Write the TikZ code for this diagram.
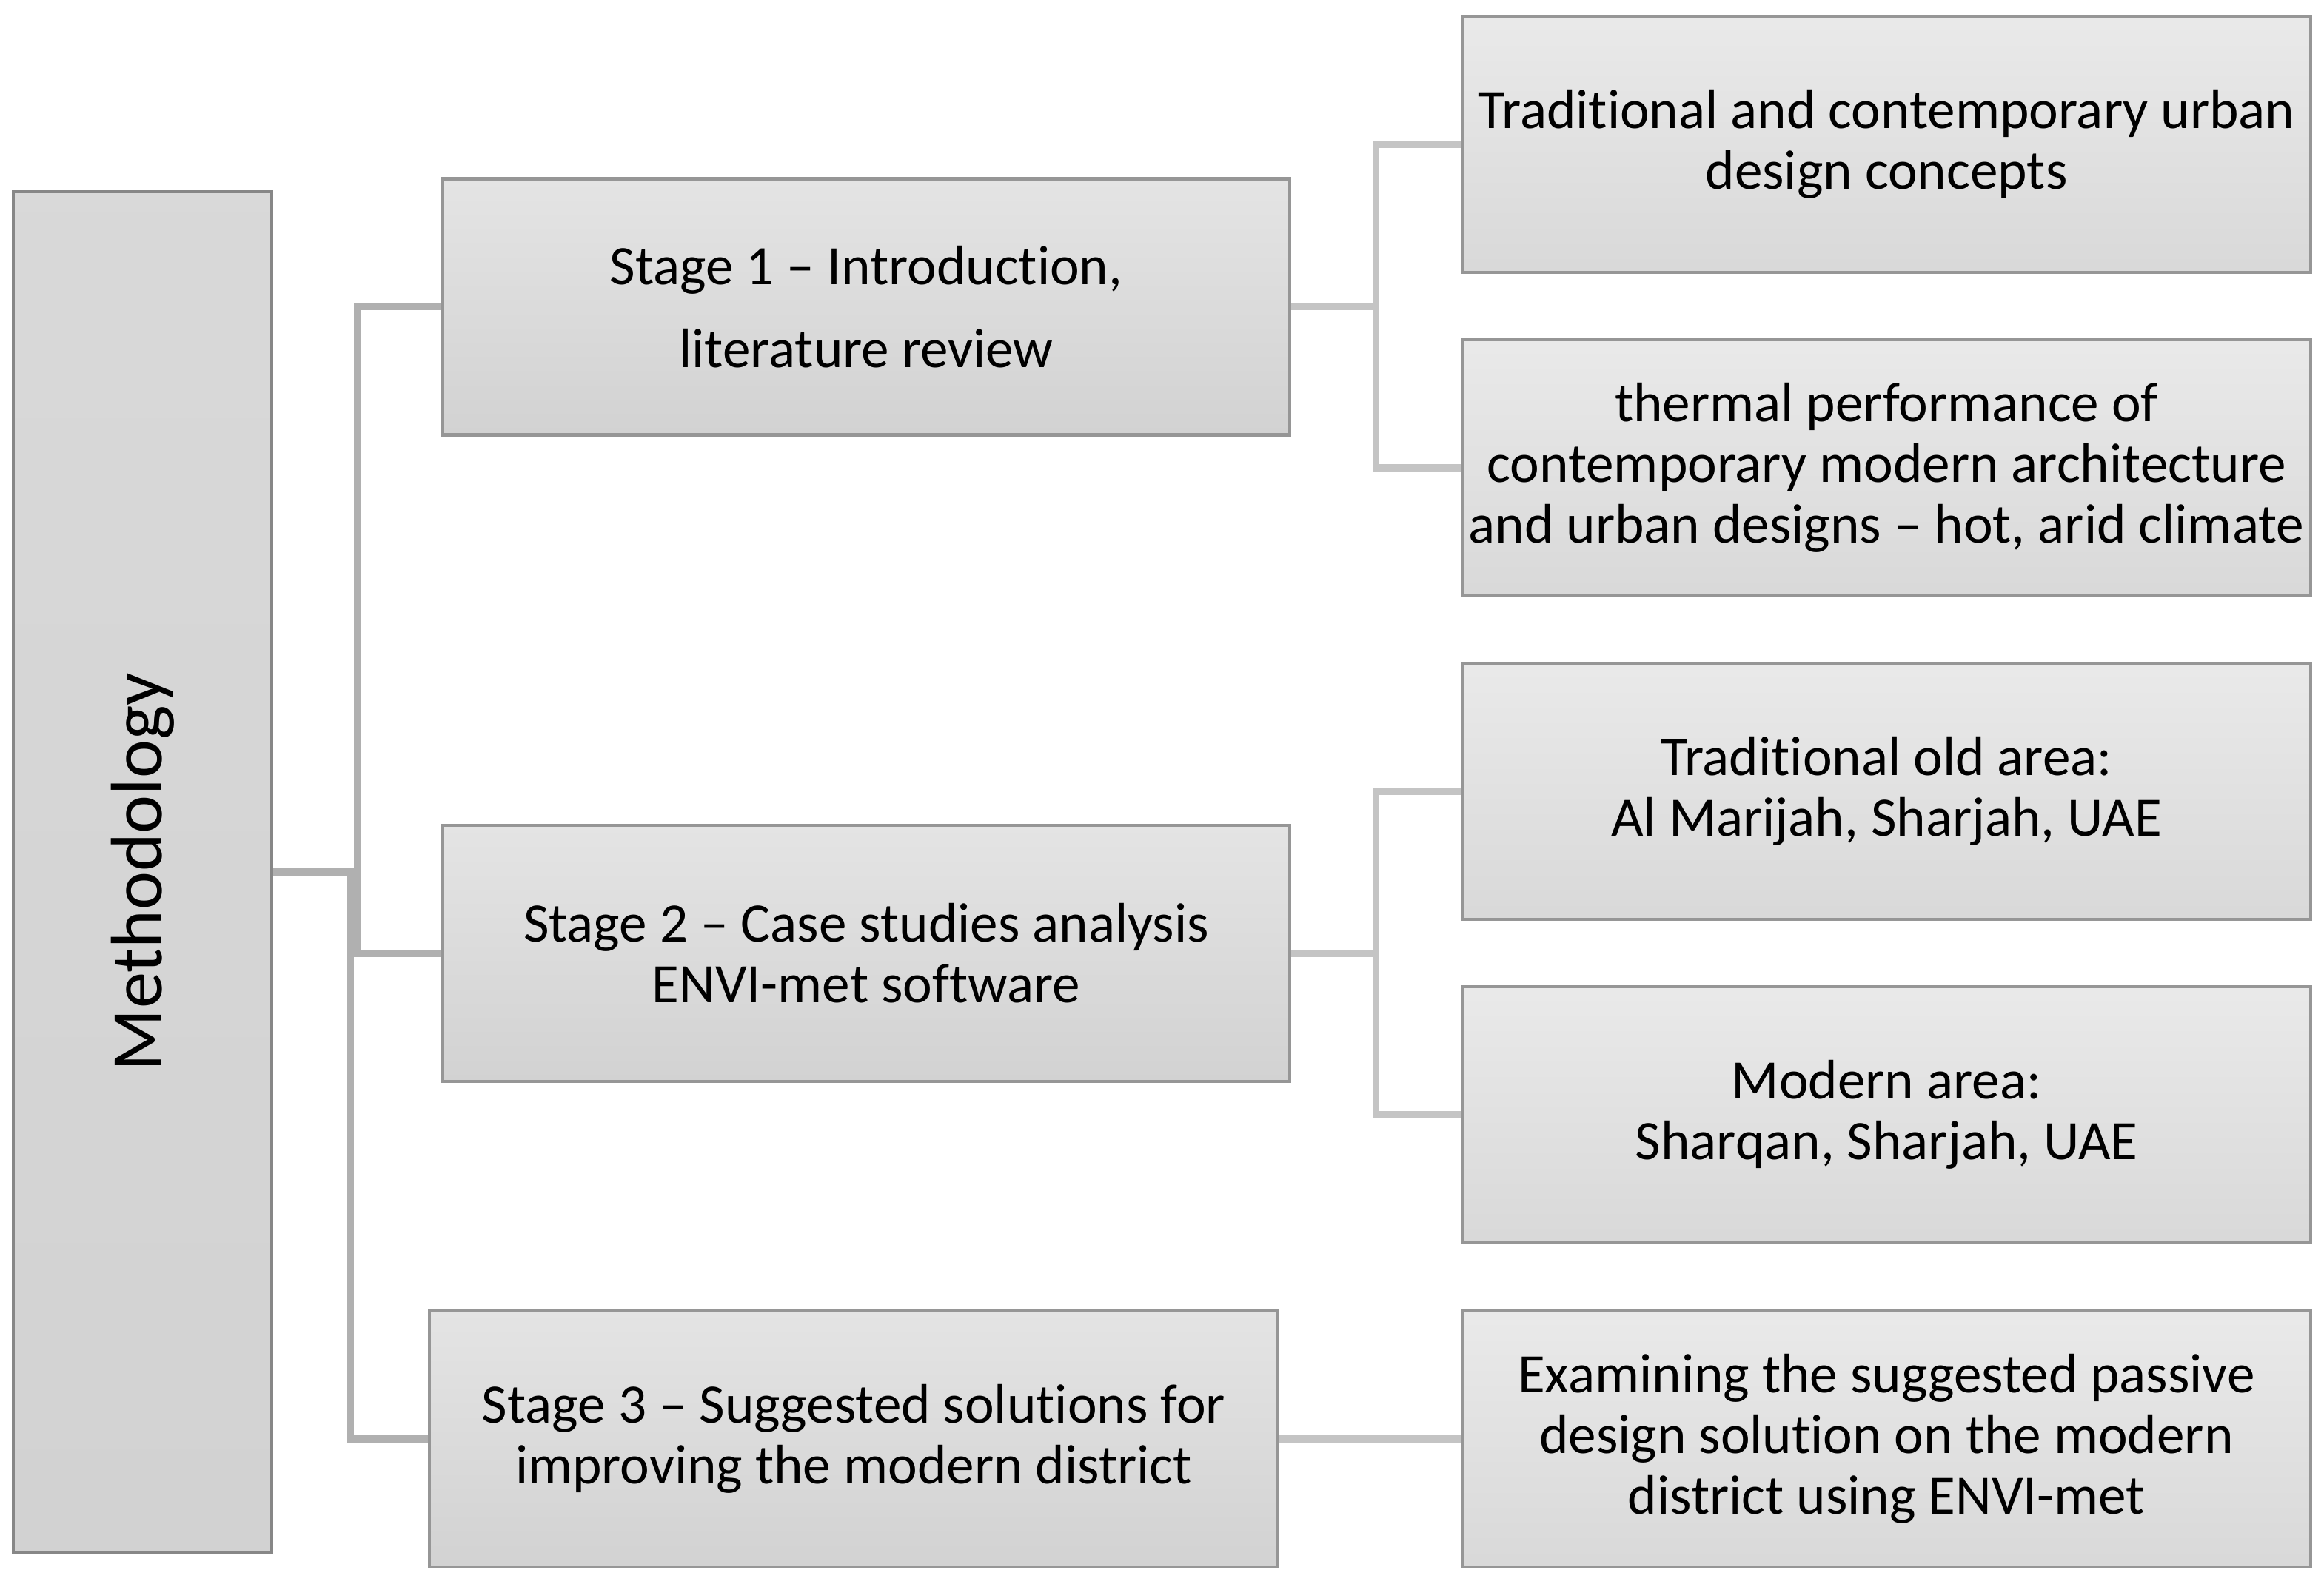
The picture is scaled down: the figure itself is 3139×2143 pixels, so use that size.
\documentclass[tikz,border=0pt]{standalone}
\usepackage{fontspec}
\setmainfont{Carlito}[Ligatures={TeX,NoCommon}]
\usepackage{graphicx}
\usetikzlibrary{calc}
\definecolor{boxline}{RGB}{150,150,150}
\definecolor{boxtop}{RGB}{228,228,228}
\definecolor{boxbot}{RGB}{210,210,210}
\definecolor{linkdark}{RGB}{176,176,176}
\definecolor{linklight}{RGB}{196,196,196}

\begin{document}
\begin{tikzpicture}[x=0.1mm,y=-0.1mm,
                every node/.style = {draw=boxline, line width=1.3pt, top color=boxtop, bottom color=boxbot,
                                     align=center, inner sep=0pt, font=\fontsize{21.4}{23.4}\selectfont},
                stagebox/.style = {minimum width=114.4mm, minimum height=34.6mm},
                leafbox/.style = {minimum width=114.6mm, minimum height=34.6mm, top color=boxtop!80!white, bottom color=boxtop!95!black},
                elbow/.style = {line width=2.6pt, to path={-| ($(\tikztostart)!.5!(\tikztotarget)$) |- (\tikztotarget)}}
                ]
                \useasboundingbox (0,0) rectangle (3139,2143);
                \node[minimum width=34.9mm, minimum height=183.8mm, top color=boxtop!95!black, bottom color=boxbot, draw=boxline!90!black] (meth) at (192.5,1178)
                    {\fontsize{28}{34}\selectfont\rotatebox{90}{Methodology}};
                \node[stagebox] (s1) at (1170,414.5) {Stage 1 – Introduction,\\[8.5pt]literature review};
                \node[stagebox] (s2) at (1170,1288) {Stage 2 – Case studies analysis\\ENVI-met software};
                \node[stagebox, minimum width=114.6mm] (s3) at (1153,1944) {Stage 3 – Suggested solutions for\\improving the modern district};
                \node[leafbox] (r1) at (2548,195) {Traditional and contemporary urban\\design concepts};
                \node[leafbox] (r2) at (2548,632) {thermal performance of\\contemporary modern architecture\\and urban designs – hot, arid climate};
                \node[leafbox] (r3) at (2548,1069) {Traditional old area:\\Al Marijah, Sharjah, UAE};
                \node[leafbox] (r4) at (2548,1506) {Modern area:\\Sharqan, Sharjah, UAE};
                \node[leafbox] (r5) at (2548,1944) {Examining the suggested passive\\design solution on the modern\\district using ENVI-met};
                \draw[elbow, linkdark] (meth.east) to (s1.west);
                \draw[elbow, linkdark] (meth.east) to (s2.west);
                \draw[elbow, linkdark] (meth.east) to (s3.west);
                \draw[elbow, linklight] (s1.east) to (r1.west);
                \draw[elbow, linklight] (s1.east) to (r2.west);
                \draw[elbow, linklight] (s2.east) to (r3.west);
                \draw[elbow, linklight] (s2.east) to (r4.west);
                \draw[line width=2.6pt, linklight] (s3.east) -- (r5.west);
            \end{tikzpicture}
\end{document}
